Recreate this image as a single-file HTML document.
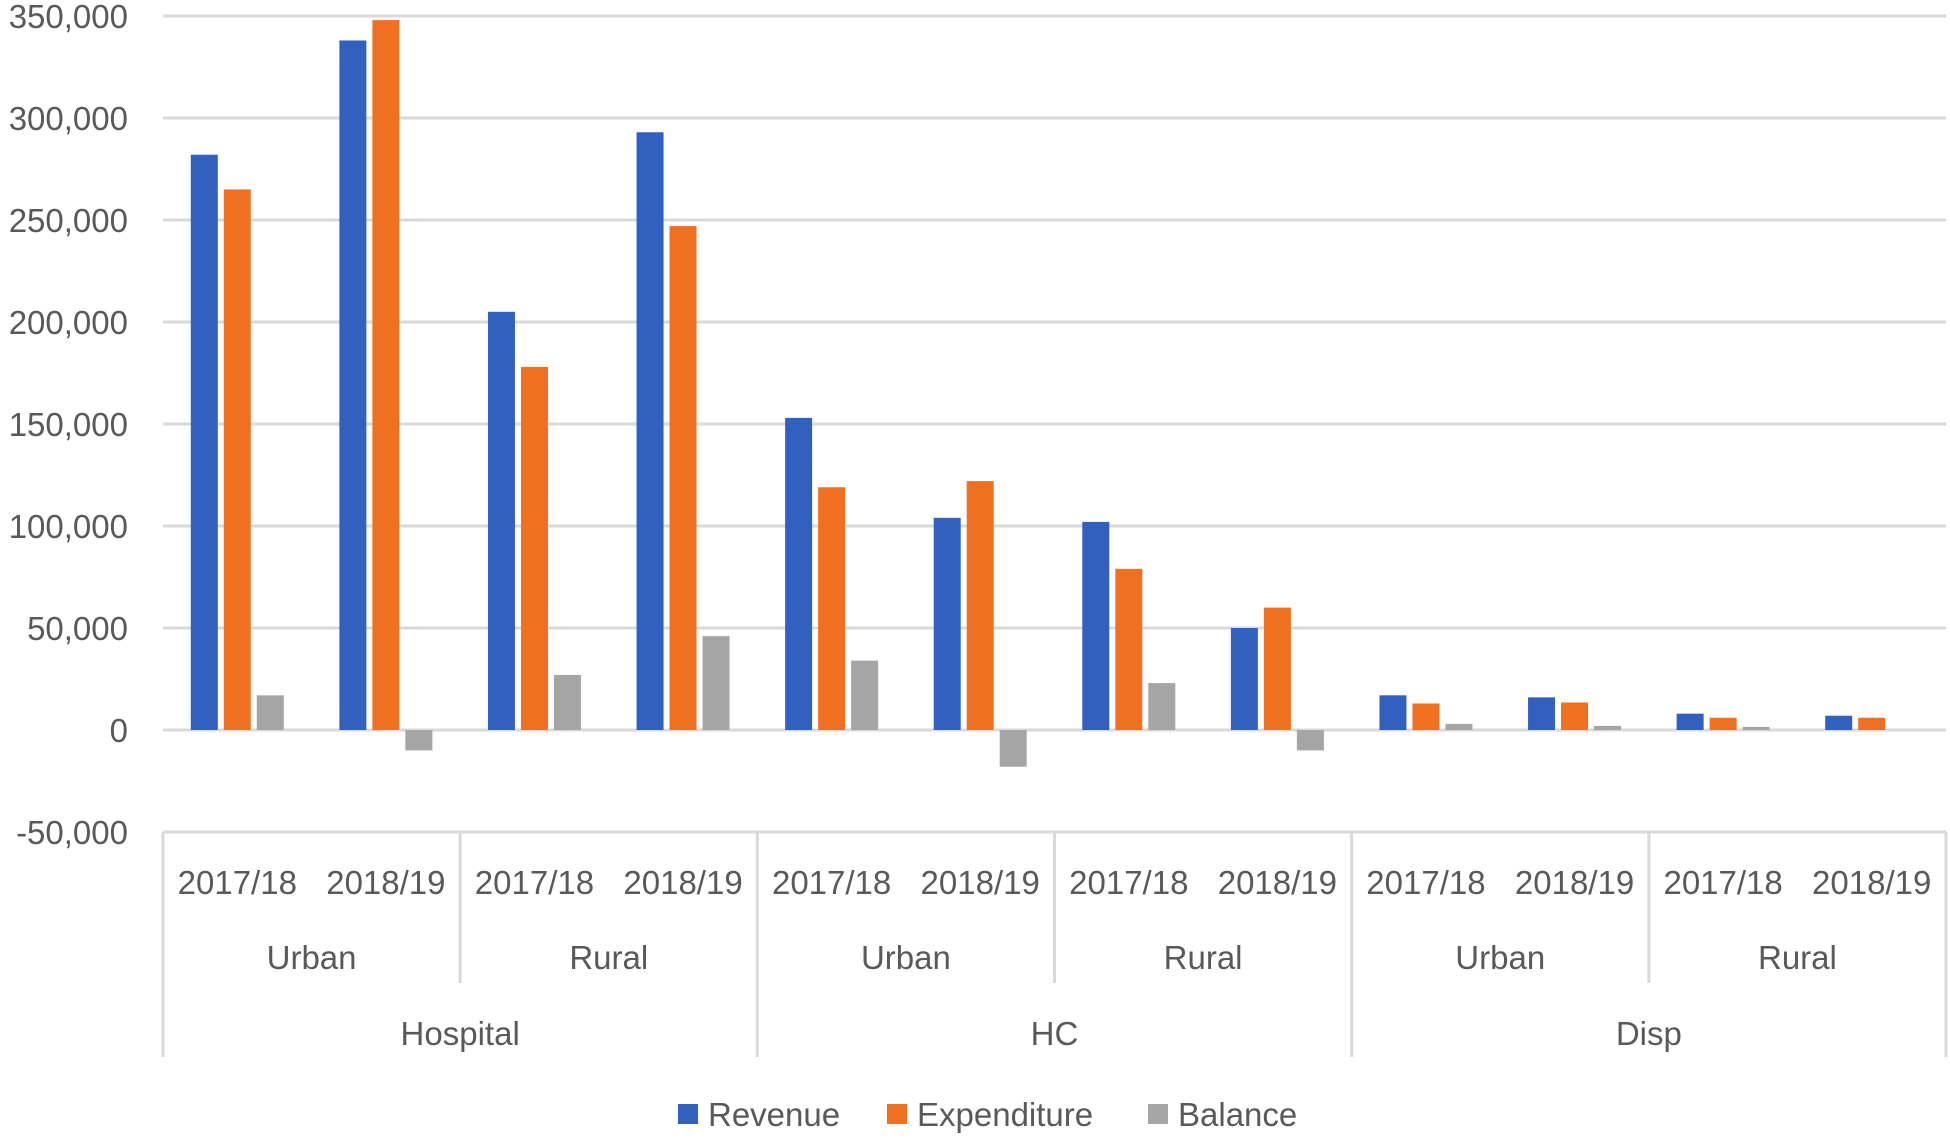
<!DOCTYPE html>
<html><head><meta charset="utf-8"><style>
body{margin:0;background:#fff;}
svg text{font-family:"Liberation Sans",sans-serif;fill:#595959;}
</style></head><body>
<svg id="chart" width="1950" height="1138" xmlns="http://www.w3.org/2000/svg"></svg>
<script>
const years=["2017/18","2018/19","2017/18","2018/19","2017/18","2018/19","2017/18","2018/19","2017/18","2018/19","2017/18","2018/19"];
const areas=["Urban","Rural","Urban","Rural","Urban","Rural"];
const facilities=["Hospital","HC","Disp"];
const revenue=[282000,338000,205000,293000,153000,104000,102000,50000,17000,16000,8000,7000];
const expenditure=[265000,348000,178000,247000,119000,122000,79000,60000,13000,13500,6000,6000];
const balance=[17000,-10000,27000,46000,34000,-18000,23000,-10000,3000,2000,1500,0];
const yTicks=[-50000,0,50000,100000,150000,200000,250000,300000,350000];
const seriesNames=["Revenue","Expenditure","Balance"];
const colors=["#3260BF","#F07021","#A5A5A5"];

const NS="http://www.w3.org/2000/svg";
const svg=document.getElementById('chart');
const L=163,R=1946,y0=730,pxPer=102/50000;
const Y=v=>y0-v*pxPer;
const cw=(R-L)/years.length;
const X=i=>L+i*cw;
const FS=33;
function mk(t,a,parent){const e=document.createElementNS(NS,t);for(const k in a)e.setAttribute(k,a[k]);(parent||svg).appendChild(e);return e;}

yTicks.forEach(t=>{
  const g=mk('line',{x1:L,x2:R,y1:Y(t),y2:Y(t),stroke:'#D9D9D9','stroke-width':3});
  
  
  const tx=mk('text',{x:128,y:Y(t)+12,'text-anchor':'end','font-size':FS});
  tx.textContent=t.toLocaleString('en-US');
  
  
});

const all=[revenue,expenditure,balance];
const bw=27,step=33;
all.forEach((arr,s)=>{
  arr.forEach((v,i)=>{
    const cx=X(i)+cw/2+(s-1)*step;
    const top=Math.min(Y(v),y0),h=Math.abs(Y(v)-y0);
    const r=mk('rect',{x:cx-bw/2,y:top,width:bw,height:h,fill:colors[s]});
    
    
  });
});

const axisTop=Y(-50000);
mk('line',{x1:L,x2:R,y1:axisTop,y2:axisTop,stroke:'#D9D9D9','stroke-width':3});
years.forEach((t,i)=>{
  const tx=mk('text',{x:X(i)+cw/2,y:894,'text-anchor':'middle','font-size':FS});
  tx.textContent=t;
  
  
});
areas.forEach((t,i)=>{
  const tx=mk('text',{x:X(i*2)+cw,y:969,'text-anchor':'middle','font-size':FS});
  tx.textContent=t;
  
  
  if(i>0){const ln=mk('line',{x1:X(i*2),x2:X(i*2),y1:axisTop,y2:i%2?983:1057,stroke:'#D9D9D9','stroke-width':3});
  
  }
});
facilities.forEach((t,i)=>{
  const tx=mk('text',{x:X(i*4)+cw*2,y:1045,'text-anchor':'middle','font-size':FS});
  tx.textContent=t;
  
  
});
[L,R].forEach(x=>mk('line',{x1:x,x2:x,y1:axisTop,y2:1057,stroke:'#D9D9D9','stroke-width':3}));

const lx=[678,887,1148];
seriesNames.forEach((n,s)=>{
  const r=mk('rect',{x:lx[s],y:1104,width:20,height:20,fill:colors[s]});
  
  
  const tx=mk('text',{x:lx[s]+30,y:1126,'font-size':FS});
  tx.textContent=n;
  
  
});
</script>
</body></html>
